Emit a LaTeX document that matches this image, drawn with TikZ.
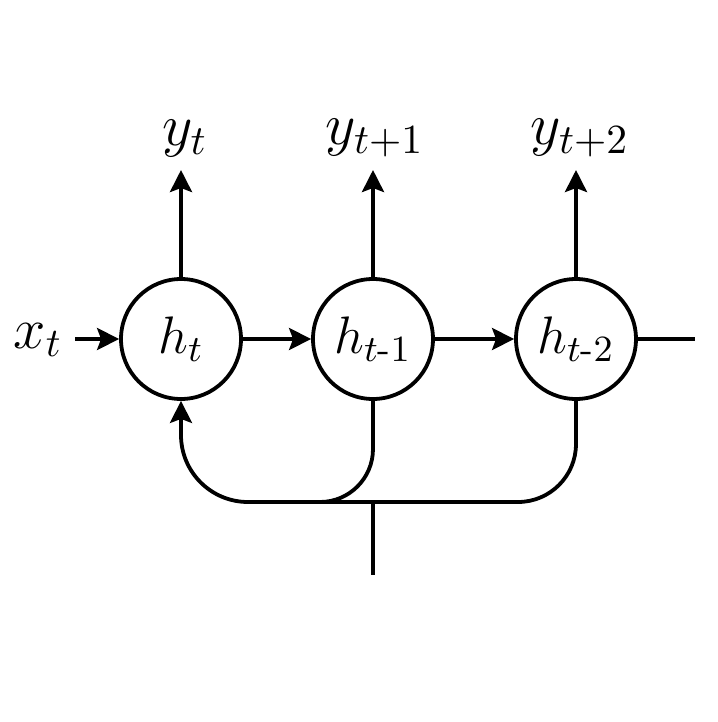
\RequirePackage{fix-cm}
\documentclass[tikz,border=0pt]{standalone}
\usepackage{amsmath}
\usetikzlibrary{arrows.meta}

\begin{document}
\begin{tikzpicture}[x=0.25pt, y=0.25pt]
        \tikzset{cell/.style={draw, circle, line width=0.95pt, minimum size=30pt, inner sep=0pt, font=\fontsize{13.2}{15}\selectfont},
                 lab/.style={inner sep=3pt, font=\fontsize{14.8}{17}\selectfont},
                 wire/.style={line width=0.95pt},
                 arr/.style={wire, -{Stealth[length=5.5pt, width=5.5pt, inset=1pt]}}}
        \useasboundingbox (0,0) rectangle (718,722);
        \node [cell] (1) at (181,383) {$h_t$};
        \node [cell] (2) at (373,383) {$h_{t\text{-}1}$};
        \node [cell] (3) at (576,383) {$h_{t\text{-}2}$};
        \node [lab, font=\fontsize{14.5}{17}\selectfont] (x) at (38,382) {$x_t$};
        \node [lab, anchor=south] (y1) at (185,552) {$y_t$};
        \node [lab, anchor=south] (y2) at (375,552) {$y_{t+1}$};
        \node [lab, anchor=south] (y3) at (580,552) {$y_{t+2}$};
        \coordinate (out) at (695,383);
        \coordinate (j)   at (373,220);
        \coordinate (in)  at (373,147);
        \coordinate (l)   at (300,220);
        \draw [arr] (x.east |- 1) -- (1);
        \draw [arr] (1) -- (2);
        \draw [arr] (2) -- (3);
        \draw [wire] (3) -- (out);
        \draw [arr] (1) -- (1 |- y1.south);
        \draw [arr] (2) -- (2 |- y2.south);
        \draw [arr] (3) -- (3 |- y3.south);
        \draw [wire, rounded corners=13.25pt] (2.south) |- (l);
        \draw [wire, rounded corners=14.5pt] (3.south) |- (j);
        \draw [arr, rounded corners=16.75pt] (j) -| (1.south);
        \draw [wire] (j) -- (in);
    \end{tikzpicture}
\end{document}
